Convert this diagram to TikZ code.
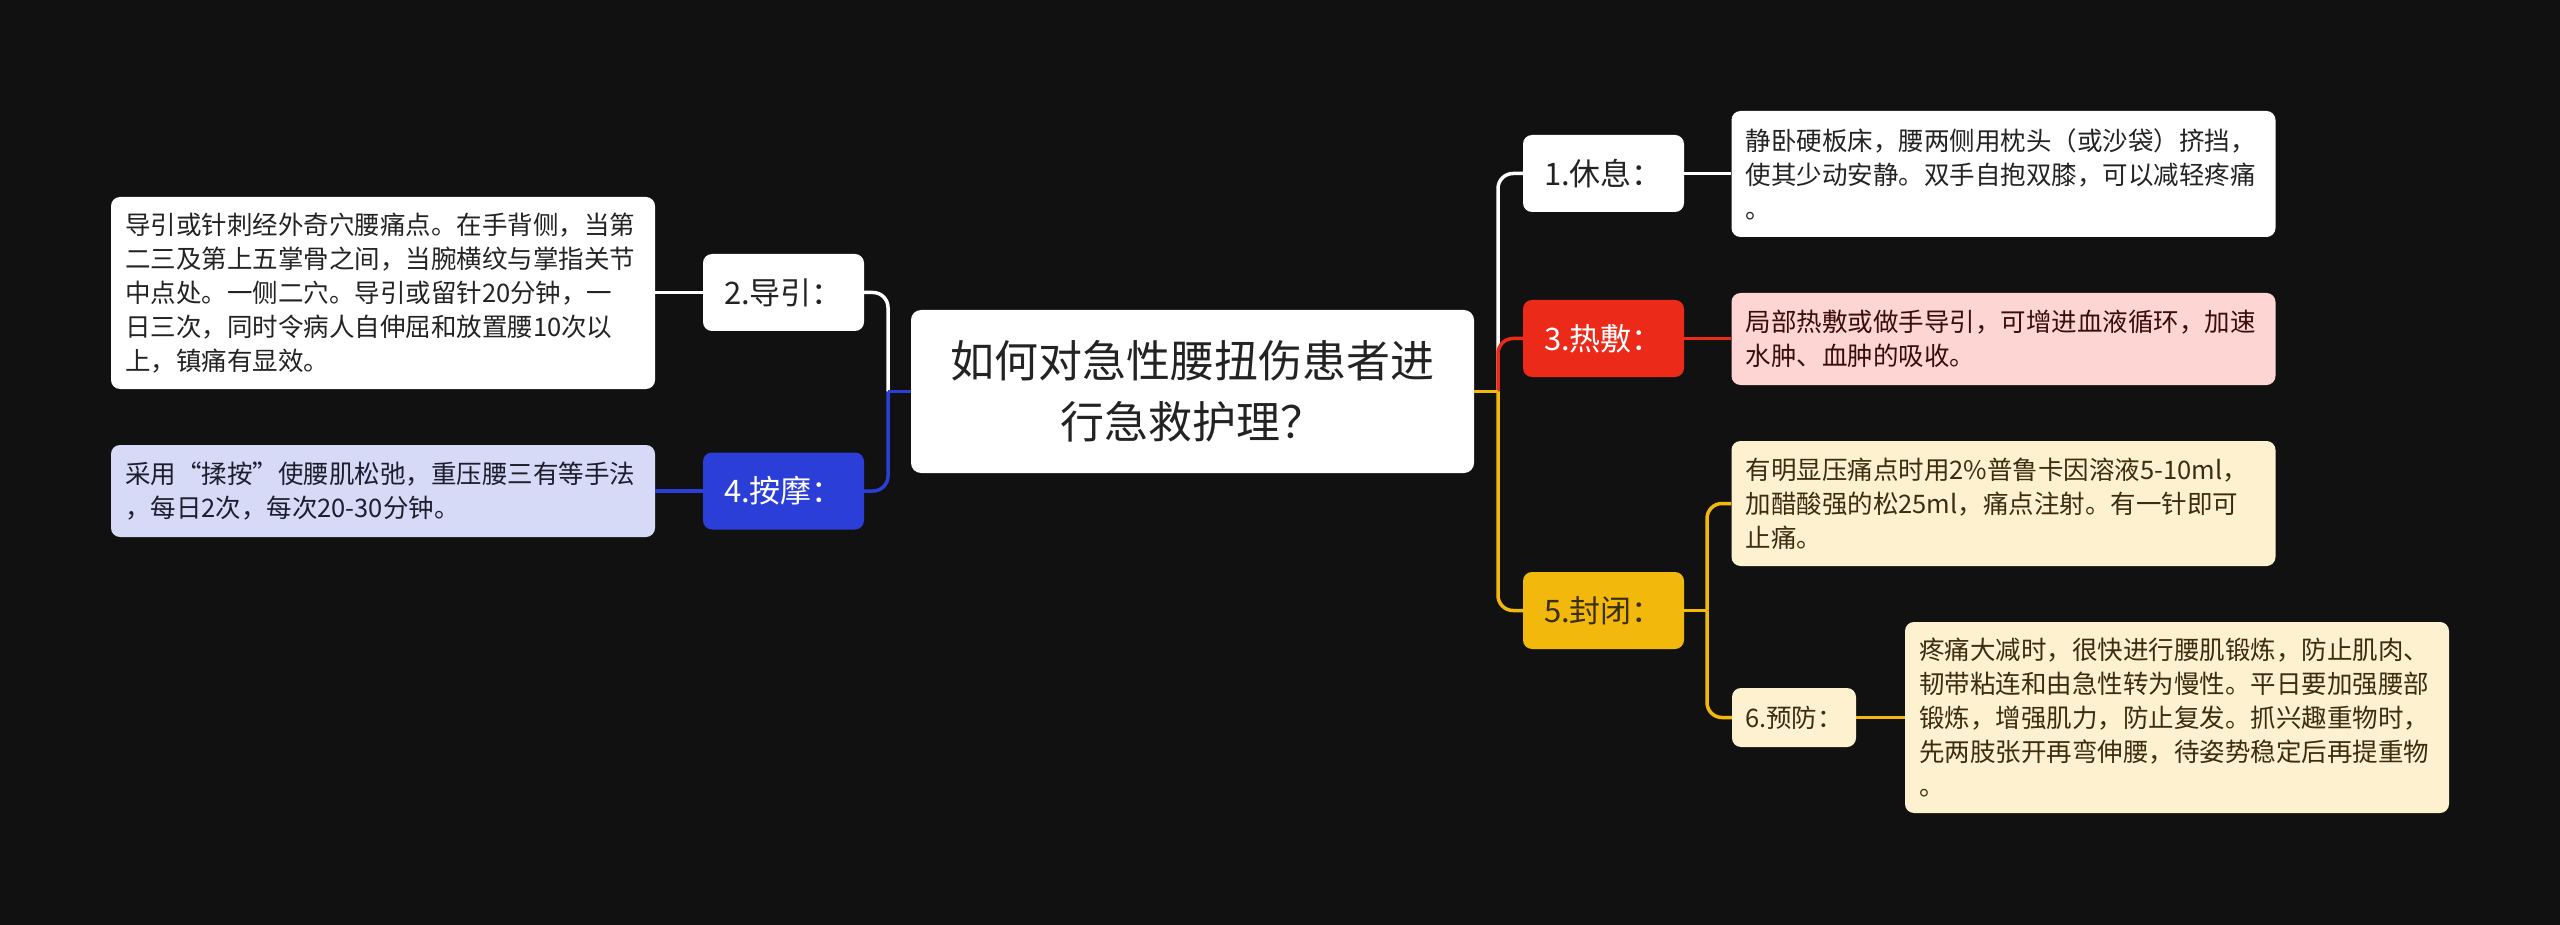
\documentclass[tikz,border=0pt]{standalone}
\usepackage{fontspec}
\setmainfont{Noto Sans CJK SC}
\definecolor{bg}{HTML}{111111}
\definecolor{blueN}{HTML}{2B3FD8}
\definecolor{lav}{HTML}{D6DAF7}
\definecolor{redN}{HTML}{EC2A1A}
\definecolor{pinkF}{HTML}{FDD6D3}
\definecolor{goldN}{HTML}{F2B90C}
\definecolor{creamF}{HTML}{FDF1CF}
\definecolor{ink}{HTML}{232323}
\definecolor{pinkInk}{HTML}{3A0D0D}
\definecolor{creamInk}{HTML}{3A2E10}
\definecolor{lavInk}{HTML}{1D1D2E}
\begin{document}
\begin{tikzpicture}[x=1pt,y=-1pt,
  base/.style={rounded corners=9pt, inner xsep=14pt, inner ysep=0pt, font=\fontsize{25.5}{34}\selectfont},
  txt/.style={base, text width=516pt, align=left},
  lab/.style={rounded corners=9pt, inner sep=0pt, minimum width=161pt, minimum height=77pt, font=\fontsize{31}{36}\selectfont},
  central/.style={rounded corners=10pt, inner sep=0pt, fill=white, text=ink, minimum width=563pt, minimum height=163pt, align=center, font=\fontsize{44}{61}\selectfont},
  conn/.style={line width=3.5pt},
  elbow/.style={conn, rounded corners=15pt}]
\fill[bg] (0,0) rectangle (2560,925);
\useasboundingbox (0,0) rectangle (2560,925);

% central
\node[central] (c) at (1192.5,391.5) {如何对急性腰扭伤患者进\\行急救护理？};

% left side
\node[lab, fill=white, text=ink] (n2) at (783.5,292.5) {2.导引：};
\node[txt, fill=white, text=ink, minimum height=192pt] (t2) at (383,293) {导引或针刺经外奇穴腰痛点。在手背侧，当第\\二三及第上五掌骨之间，当腕横纹与掌指关节\\中点处。一侧二穴。导引或留针20分钟，一\\日三次，同时令病人自伸屈和放置腰10次以\\上，镇痛有显效。};
\node[lab, fill=blueN, text=white] (n4) at (783.5,491) {4.按摩：};
\node[txt, fill=lav, text=lavInk, minimum height=92pt] (t4) at (383,491) {采用“揉按”使腰肌松弛，重压腰三有等手法\\，每日2次，每次20-30分钟。};

% right side
\node[lab, fill=white, text=ink] (n1) at (1603.5,173.5) {1.休息：};
\node[txt, fill=white, text=ink, minimum height=126pt] (t1) at (2003.5,174) {静卧硬板床，腰两侧用枕头（或沙袋）挤挡，\\使其少动安静。双手自抱双膝，可以减轻疼痛\\。};
\node[lab, fill=redN, text=white] (n3) at (1603.5,338.5) {3.热敷：};
\node[txt, fill=pinkF, text=pinkInk, minimum height=92pt] (t3) at (2003.5,339) {局部热敷或做手导引，可增进血液循环，加速\\水肿、血肿的吸收。};
\node[lab, fill=goldN, text=creamInk] (n5) at (1603.5,610.5) {5.封闭：};
\node[txt, fill=creamF, text=creamInk, minimum height=125pt] (t5) at (2003.5,503.5) {有明显压痛点时用2\%普鲁卡因溶液5-10ml，\\加醋酸强的松25ml，痛点注射。有一针即可\\止痛。};
\node[base, fill=creamF, text=creamInk, minimum width=124pt, minimum height=59pt, inner xsep=0pt] (n6) at (1794,717.5) {6.预防：};
\node[txt, fill=creamF, text=creamInk, minimum height=191pt] (t6) at (2177,717.5) {疼痛大减时，很快进行腰肌锻炼，防止肌肉、\\韧带粘连和由急性转为慢性。平日要加强腰部\\锻炼，增强肌力，防止复发。抓兴趣重物时，\\先两肢张开再弯伸腰，待姿势稳定后再提重物\\。};

% junctions
\coordinate (jR) at (1498,391.5);
\coordinate (jL) at (888,391.5);
\coordinate (j5) at (1707,610.5);

% right connectors
\draw[conn, white] (c.east) -- (jR);
\draw[elbow, white] (jR) -- (jR |- n1.west) -- (n1.west);
\draw[conn, redN] (c.east) -- (jR);
\draw[elbow, redN] (jR) -- (jR |- n3.west) -- (n3.west);
\draw[conn, goldN] (c.east) -- (jR);
\draw[elbow, goldN] (jR) -- (jR |- n5.west) -- (n5.west);

% left connectors
\draw[conn, white] (c.west) -- (jL);
\draw[elbow, white] (jL) -- (jL |- n2.east) -- (n2.east);
\draw[conn, blueN] (c.west) -- (jL);
\draw[elbow, blueN] (jL) -- (jL |- n4.east) -- (n4.east);

% to details
\draw[conn, white] (n1.east) -- (n1.east -| t1.west);
\draw[conn, redN] (n3.east) -- (n3.east -| t3.west);
\draw[conn, white] (n2.west) -- (n2.west -| t2.east);
\draw[conn, blueN] (n4.west) -- (n4.west -| t4.east);
\draw[conn, goldN] (n5.east) -- (j5);
\draw[elbow, goldN] (j5) -- (j5 |- t5.west) -- (t5.west);
\draw[elbow, goldN] (j5) -- (j5 |- n6.west) -- (n6.west);
\draw[conn, goldN] (n6.east) -- (n6.east -| t6.west);
\end{tikzpicture}
\end{document}
